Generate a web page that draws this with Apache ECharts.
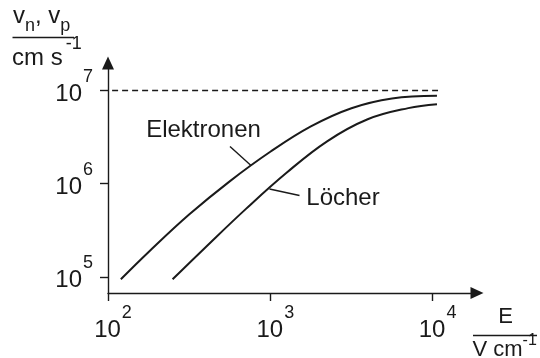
<!DOCTYPE html>
<html>
<head>
<meta charset="utf-8">
<script src="https://cdn.jsdelivr.net/npm/echarts@6/dist/echarts.min.js"></script>
<style>html,body{margin:0;padding:0;background:#fff}#c{width:540px;height:358px}</style>
</head>
<body>
<div id="c"></div>
<script>
// ---- data ----
const xTicks = [100, 1000, 10000];          // E in V/cm
const yTicks = [1e5, 1e6, 1e7];             // v in cm/s
const electronE = [120, 178, 316, 562, 1000, 1778, 3162, 5623, 10640];
const electronV = [9.42e4, 1.85e5, 4.66e5, 1.06e6, 2.2e6, 4.12e6, 6.46e6, 8.22e6, 8.8e6];
const holeE = [250, 398, 708, 1259, 2239, 3981, 7079, 10640];
const holeV = [9.42e4, 2.07e5, 5.37e5, 1.31e6, 2.85e6, 4.91e6, 6.47e6, 7.11e6];
const saturationV = 1e7;
const saturationRange = [106, 10800];
const seriesNames = ['Elektronen', 'Löcher'];
const axisRangeX = [100, 18774];
const axisRangeY = [67200, 1.9727e7];

const FONT = '"Liberation Sans", Arial, sans-serif';
const INK = '#1a1a1a';

function pairs(xs, ys) { return xs.map((x, i) => [x, ys[i]]); }
function powLabel(v) { return '{b|10}{s|' + Math.round(Math.log10(v)) + '}'; }

// tokens are centred in the line box; padding shifts the glyphs
const richPow = {
  b: { fontSize: 24, lineHeight: 24, fontFamily: FONT, color: INK, padding: [14, 0, 0, 0] },
  s: { fontSize: 18, lineHeight: 18, fontFamily: FONT, color: INK, padding: [0, 0, 20, 1] }
};

const chart = echarts.init(document.getElementById('c'), null, { renderer: 'canvas' });
chart.setOption({
  animation: false,
  backgroundColor: '#fff',
  grid: { left: 108, right: 63, top: 63, bottom: 65 },
  xAxis: {
    type: 'log', min: axisRangeX[0], max: axisRangeX[1],
    axisLine: { lineStyle: { color: INK, width: 1.4 }, symbol: ['none', 'triangle'], symbolSize: [12, 13] },
    axisTick: { customValues: xTicks, length: 8, lineStyle: { color: INK, width: 1.4 } },
    axisLabel: { customValues: xTicks, formatter: powLabel, rich: richPow, margin: 18, padding: [0, 0, 0, 10] },
    splitLine: { show: false }, minorTick: { show: false }
  },
  yAxis: {
    type: 'log', min: axisRangeY[0], max: axisRangeY[1],
    axisLine: { lineStyle: { color: INK, width: 1.4 }, symbol: ['none', 'triangle'], symbolSize: [12, 13] },
    axisTick: { customValues: yTicks, length: 8, lineStyle: { color: INK, width: 1.4 } },
    axisLabel: { customValues: yTicks, formatter: powLabel, rich: richPow, margin: 15, padding: [0, 0, 7, 0] },
    splitLine: { show: false }, minorTick: { show: false }
  },
  series: [
    {
      name: seriesNames[0], type: 'line', smooth: 0.4, showSymbol: false, silent: true,
      data: pairs(electronE, electronV),
      lineStyle: { color: INK, width: 2 },
      markLine: {
        silent: true, symbol: ['none', 'none'], label: { show: false },
        lineStyle: { color: INK, width: 1.3, type: [6, 4] },
        data: [[{ coord: [saturationRange[0], saturationV] }, { coord: [saturationRange[1], saturationV] }]]
      }
    },
    {
      name: seriesNames[1], type: 'line', smooth: 0.4, showSymbol: false, silent: true,
      data: pairs(holeE, holeV),
      lineStyle: { color: INK, width: 2 }
    }
  ],
  graphic: [
    // y-axis name: v_n, v_p / cm s^-1
    { type: 'text', x: 13, y: 4.7, style: {
        text: '{a|v}{sub|n}{a|, v}{sub|p}', fill: INK, verticalAlign: 'top', align: 'left',
        rich: {
          a: { fontSize: 24, lineHeight: 24, fontFamily: FONT, fill: INK },
          sub: { fontSize: 18, lineHeight: 18, fontFamily: FONT, fill: INK, padding: [18, 0, 0, 0] }
        } } },
    { type: 'line', shape: { x1: 12.5, y1: 37.5, x2: 74, y2: 37.5 }, style: { stroke: INK, lineWidth: 1.4 } },
    { type: 'text', x: 12, y: 46.4, style: {
        text: '{a|cm s}{sup|-1}', fill: INK, verticalAlign: 'top', align: 'left',
        rich: {
          a: { fontSize: 24, lineHeight: 24, fontFamily: FONT, fill: INK },
          sup: { fontSize: 18, lineHeight: 18, fontFamily: FONT, fill: INK, padding: [0, 0, 28, 3] }
        } } },
    // x-axis name: E / V cm^-1
    { type: 'text', x: 505.5, y: 316.5, style: { text: 'E', fill: INK, font: '22px ' + FONT, align: 'center', verticalAlign: 'middle' } },
    { type: 'line', shape: { x1: 473, y1: 335.5, x2: 537, y2: 335.5 }, style: { stroke: INK, lineWidth: 1.4 } },
    { type: 'text', x: 472.5, y: 338.5, style: {
        text: '{a|V cm}{sup|-1}', fill: INK, verticalAlign: 'top', align: 'left',
        rich: {
          a: { fontSize: 22, lineHeight: 22, fontFamily: FONT, fill: INK },
          sup: { fontSize: 16, lineHeight: 16, fontFamily: FONT, fill: INK, padding: [0, 0, 18, 0] }
        } } },
    // curve labels with leader lines
    { type: 'text', x: 203.5, y: 130, style: { text: seriesNames[0], fill: INK, font: '24px ' + FONT, align: 'center', verticalAlign: 'middle' } },
    { type: 'line', shape: { x1: 230, y1: 146.5, x2: 251, y2: 165.5 }, style: { stroke: INK, lineWidth: 1.4 } },
    { type: 'text', x: 343, y: 198, style: { text: seriesNames[1], fill: INK, font: '24px ' + FONT, align: 'center', verticalAlign: 'middle' } },
    { type: 'line', shape: { x1: 269.5, y1: 189, x2: 299.5, y2: 195.5 }, style: { stroke: INK, lineWidth: 1.4 } }
  ]
});
</script>
</body>
</html>
